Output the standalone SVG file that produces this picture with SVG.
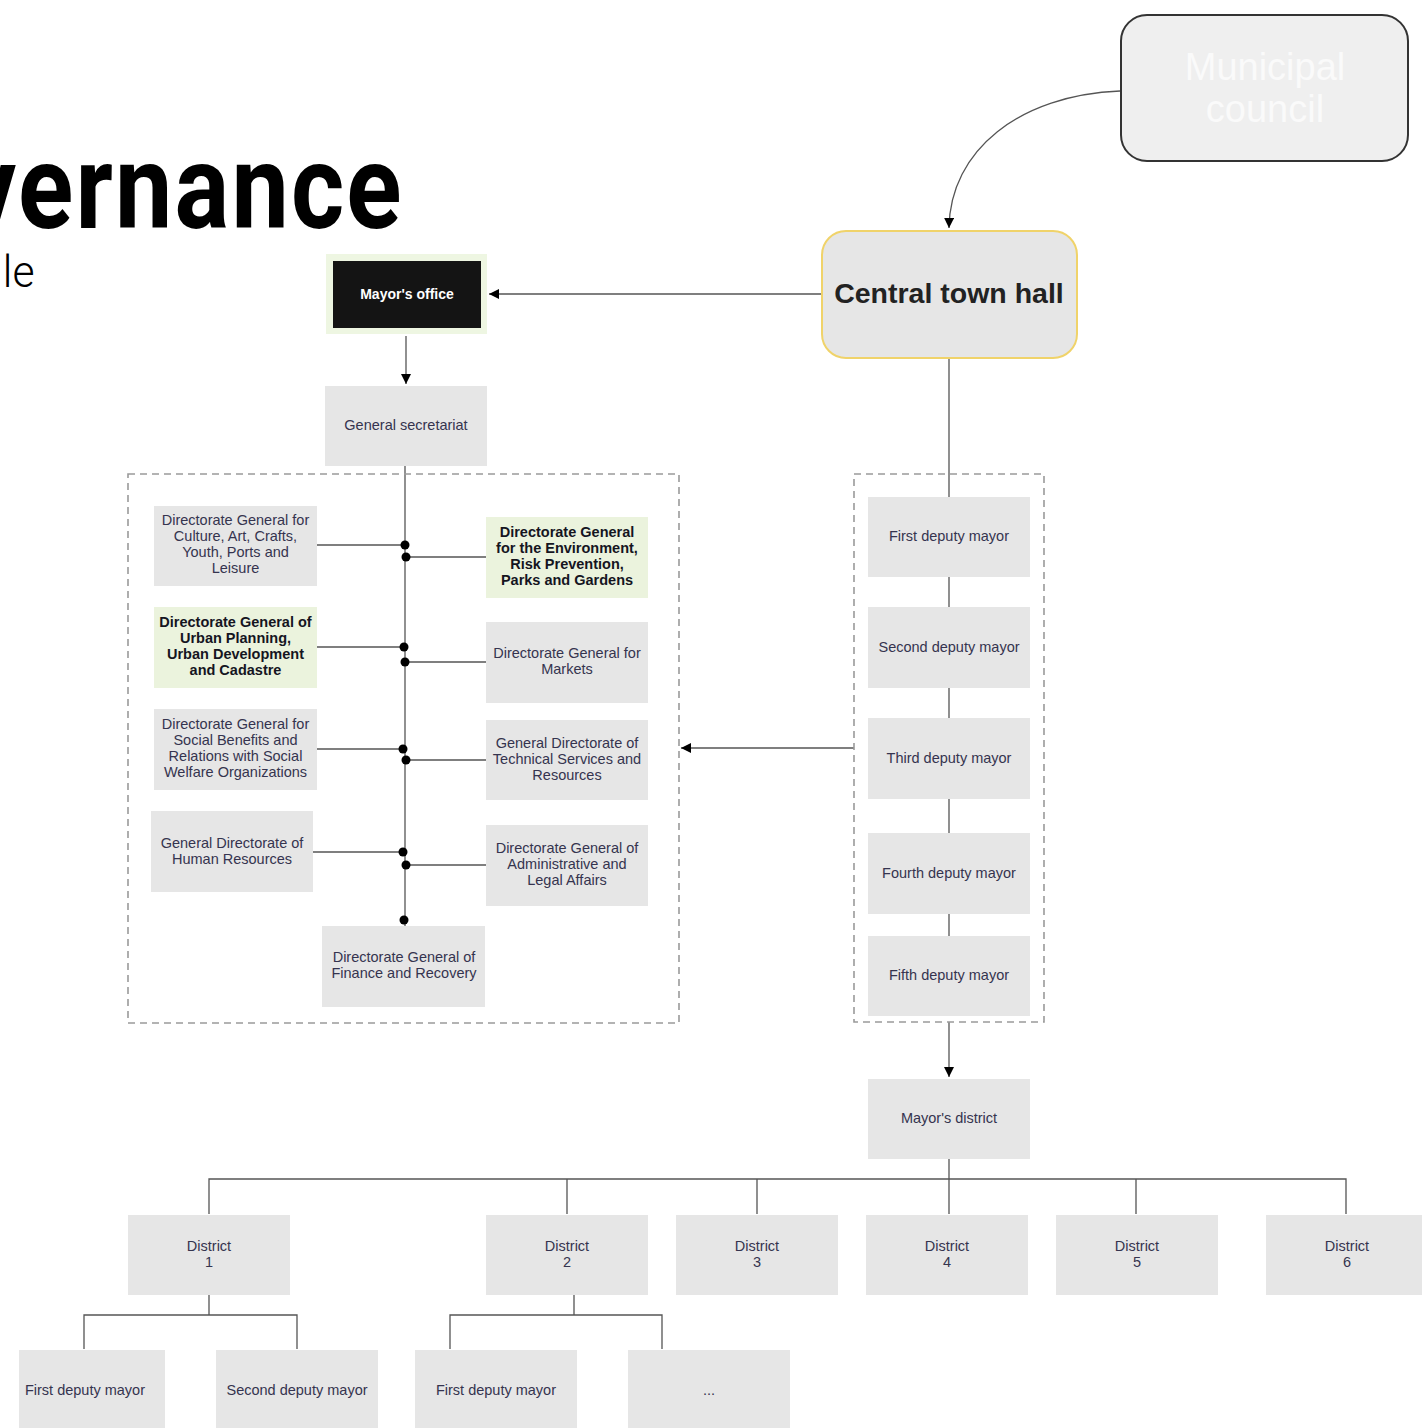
<svg xmlns="http://www.w3.org/2000/svg" width="1422" height="1428" viewBox="0 0 1422 1428">
<defs>
<style>
.box{fill:#e6e6e6}
.green{fill:#ebf3dd}
.t{font-family:"Liberation Sans",Arial,sans-serif;font-size:14.5px;fill:#35344f;text-anchor:middle}
.tb{font-family:"Liberation Sans",Arial,sans-serif;font-size:14.5px;font-weight:bold;fill:#15151f;text-anchor:middle}
.ln{stroke:#555;stroke-width:1.3;fill:none}
.dash{fill:none;stroke:#9a9a9a;stroke-width:1.6;stroke-dasharray:7 5}
.dot{fill:#000}
</style>
<marker id="ah" viewBox="0 0 10 10" refX="10" refY="5" markerWidth="10" markerHeight="10" markerUnits="userSpaceOnUse" orient="auto">
<path d="M0,0 L10,5 L0,10 z" fill="#000"/>
</marker>
</defs>
<rect width="1422" height="1428" fill="#fff"/>

<g id="title">
<text transform="scale(0.86,1)" x="-41" y="228" textLength="508" lengthAdjust="spacing" font-family="Roboto,'DejaVu Sans',sans-serif" font-weight="700" font-size="119" fill="#000">vernance</text>
<text transform="scale(0.95,1)" x="3" y="287" font-family="Roboto,'DejaVu Sans',sans-serif" font-weight="300" font-size="45" fill="#000">le</text>
</g>

<g id="connectors">
<path class="ln" d="M1120,91 C1020,95 950,150 949,228" marker-end="url(#ah)"/>
<path class="ln" d="M822,294 L489,294" marker-end="url(#ah)"/>
<path class="ln" d="M406,336 L406,384" marker-end="url(#ah)"/>
<path class="ln" d="M405,466 L405,920"/>
<path class="ln" d="M317,545 H405 M405,557 H486 M317,647 H405 M405,662 H486 M317,749 H405 M405,760 H486 M313,852 H405 M405,865 H486 M405,920 V926"/>
<path class="ln" d="M949,358 V497 M949,577 V607 M949,688 V718 M949,799 V833 M949,914 V936"/>
<path class="ln" d="M854,748 L681,748" marker-end="url(#ah)"/>
<path class="ln" d="M949,1022 L949,1077" marker-end="url(#ah)"/>
<path class="ln" d="M949,1159 V1214 M209,1214 V1179 H1346 V1214 M567,1179 V1214 M757,1179 V1214 M1136,1179 V1214"/>
<path class="ln" d="M209,1295 V1315 M84,1349 V1315 H297 V1349"/>
<path class="ln" d="M574,1295 V1315 M450,1349 V1315 H662 V1349"/>
<circle class="dot" cx="405" cy="545" r="4.5"/>
<circle class="dot" cx="406" cy="557" r="4.5"/>
<circle class="dot" cx="404" cy="647" r="4.5"/>
<circle class="dot" cx="405" cy="662" r="4.5"/>
<circle class="dot" cx="403" cy="749" r="4.5"/>
<circle class="dot" cx="406" cy="760" r="4.5"/>
<circle class="dot" cx="403" cy="852" r="4.5"/>
<circle class="dot" cx="406" cy="865" r="4.5"/>
<circle class="dot" cx="404" cy="920" r="4.5"/>
</g>

<g id="dashed-groups">
<rect class="dash" x="128" y="474" width="551" height="549"/>
<rect class="dash" x="854" y="474" width="190" height="548"/>
</g>

<g id="municipal-council">
<rect x="1121" y="15" width="287" height="146" rx="26" fill="#efefef" stroke="#333" stroke-width="2"/>
<text x="1265" y="80" font-family="'Liberation Sans',Arial,sans-serif" font-size="38" fill="#fafafa" text-anchor="middle">Municipal</text>
<text x="1265" y="122" font-family="'Liberation Sans',Arial,sans-serif" font-size="38" fill="#fafafa" text-anchor="middle">council</text>
</g>

<g id="central-town-hall">
<rect x="822" y="231" width="255" height="127" rx="24" fill="#e6e6e6" stroke="#f0d36a" stroke-width="2"/>
<text x="949" y="303" font-family="'Liberation Sans',Arial,sans-serif" font-size="28.5" font-weight="bold" fill="#222" text-anchor="middle">Central town hall</text>
</g>

<g id="mayors-office">
<rect x="326" y="254" width="161" height="80" fill="#eef6e2"/>
<rect x="333" y="261" width="148" height="67" fill="#141414"/>
<text x="407" y="299" font-family="'Liberation Sans',Arial,sans-serif" font-size="14" font-weight="bold" fill="#fff" text-anchor="middle">Mayor's office</text>
</g>

<g id="general-secretariat">
<rect class="box" x="325" y="386" width="162" height="80"/>
<text class="t" x="406" y="430">General secretariat</text>
</g>

<g id="dg-culture">
<rect class="box" x="154" y="506" width="163" height="80"/>
<text class="t" x="235.5" y="525">Directorate General for</text>
<text class="t" x="235.5" y="541">Culture, Art, Crafts,</text>
<text class="t" x="235.5" y="557">Youth, Ports and</text>
<text class="t" x="235.5" y="573">Leisure</text>
</g>

<g id="dg-urban">
<rect class="green" x="154" y="607" width="163" height="81"/>
<text class="tb" x="235.5" y="627">Directorate General of</text>
<text class="tb" x="235.5" y="643">Urban Planning,</text>
<text class="tb" x="235.5" y="659">Urban Development</text>
<text class="tb" x="235.5" y="675">and Cadastre</text>
</g>

<g id="dg-social">
<rect class="box" x="154" y="709" width="163" height="81"/>
<text class="t" x="235.5" y="729">Directorate General for</text>
<text class="t" x="235.5" y="745">Social Benefits and</text>
<text class="t" x="235.5" y="761">Relations with Social</text>
<text class="t" x="235.5" y="777">Welfare Organizations</text>
</g>

<g id="gd-hr">
<rect class="box" x="151" y="811" width="162" height="81"/>
<text class="t" x="232" y="848">General Directorate of</text>
<text class="t" x="232" y="864">Human Resources</text>
</g>

<g id="dg-environment">
<rect class="green" x="486" y="517" width="162" height="81"/>
<text class="tb" x="567" y="537">Directorate General</text>
<text class="tb" x="567" y="553">for the Environment,</text>
<text class="tb" x="567" y="569">Risk Prevention,</text>
<text class="tb" x="567" y="585">Parks and Gardens</text>
</g>

<g id="dg-markets">
<rect class="box" x="486" y="622" width="162" height="81"/>
<text class="t" x="567" y="658">Directorate General for</text>
<text class="t" x="567" y="674">Markets</text>
</g>

<g id="gd-technical">
<rect class="box" x="486" y="720" width="162" height="80"/>
<text class="t" x="567" y="748">General Directorate of</text>
<text class="t" x="567" y="764">Technical Services and</text>
<text class="t" x="567" y="780">Resources</text>
</g>

<g id="dg-admin">
<rect class="box" x="486" y="825" width="162" height="81"/>
<text class="t" x="567" y="853">Directorate General of</text>
<text class="t" x="567" y="869">Administrative and</text>
<text class="t" x="567" y="885">Legal Affairs</text>
</g>

<g id="dg-finance">
<rect class="box" x="322" y="926" width="163" height="81"/>
<text class="t" x="404" y="962">Directorate General of</text>
<text class="t" x="404" y="978">Finance and Recovery</text>
</g>

<g id="deputy-1"><rect class="box" x="868" y="497" width="162" height="80"/><text class="t" x="949" y="541">First deputy mayor</text></g>
<g id="deputy-2"><rect class="box" x="868" y="607" width="162" height="81"/><text class="t" x="949" y="652">Second deputy mayor</text></g>
<g id="deputy-3"><rect class="box" x="868" y="718" width="162" height="81"/><text class="t" x="949" y="763">Third deputy mayor</text></g>
<g id="deputy-4"><rect class="box" x="868" y="833" width="162" height="81"/><text class="t" x="949" y="878">Fourth deputy mayor</text></g>
<g id="deputy-5"><rect class="box" x="868" y="936" width="162" height="80"/><text class="t" x="949" y="980">Fifth deputy mayor</text></g>

<g id="mayors-district"><rect class="box" x="868" y="1079" width="162" height="80"/><text class="t" x="949" y="1123">Mayor's district</text></g>

<g id="district-1"><rect class="box" x="128" y="1215" width="162" height="80"/><text class="t" x="209" y="1251">District</text><text class="t" x="209" y="1267">1</text></g>
<g id="district-2"><rect class="box" x="486" y="1215" width="162" height="80"/><text class="t" x="567" y="1251">District</text><text class="t" x="567" y="1267">2</text></g>
<g id="district-3"><rect class="box" x="676" y="1215" width="162" height="80"/><text class="t" x="757" y="1251">District</text><text class="t" x="757" y="1267">3</text></g>
<g id="district-4"><rect class="box" x="866" y="1215" width="162" height="80"/><text class="t" x="947" y="1251">District</text><text class="t" x="947" y="1267">4</text></g>
<g id="district-5"><rect class="box" x="1056" y="1215" width="162" height="80"/><text class="t" x="1137" y="1251">District</text><text class="t" x="1137" y="1267">5</text></g>
<g id="district-6"><rect class="box" x="1266" y="1215" width="162" height="80"/><text class="t" x="1347" y="1251">District</text><text class="t" x="1347" y="1267">6</text></g>

<g id="d1-first-deputy"><rect class="box" x="19" y="1350" width="146" height="80"/><text class="t" x="85" y="1395">First deputy mayor</text></g>
<g id="d1-second-deputy"><rect class="box" x="216" y="1350" width="162" height="80"/><text class="t" x="297" y="1395">Second deputy mayor</text></g>
<g id="d2-first-deputy"><rect class="box" x="415" y="1350" width="162" height="80"/><text class="t" x="496" y="1395">First deputy mayor</text></g>
<g id="d2-more"><rect class="box" x="628" y="1350" width="162" height="80"/><text class="t" x="709" y="1395">...</text></g>
</svg>
